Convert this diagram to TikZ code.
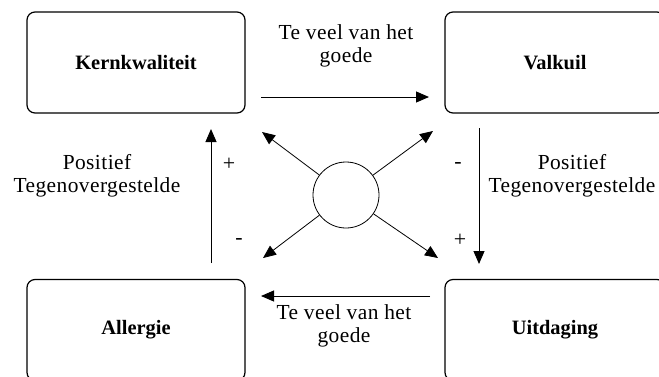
\documentclass[tikz,border=0pt]{standalone}
\usepackage{fontspec}
\setmainfont{Liberation Serif}
\newfontfamily\spaced[LetterSpace=2]{Liberation Serif}
\usetikzlibrary{arrows.meta}
\tikzset{
  box/.style={draw, line width=1.2bp, rounded corners=8bp, minimum width=218bp, minimum height=101bp,
    font=\fontsize{20.5}{23}\selectfont\bfseries, inner sep=0pt},
  lbl/.style={font=\spaced\fontsize{21.5}{23.5}\selectfont, align=center, inner sep=0pt},
  sgn/.style={font=\fontsize{22}{23}\selectfont, inner sep=0pt},
  arr/.style={line width=1bp, -{Triangle[length=13bp,width=11bp]}},
  darr/.style={line width=0.8bp, -{Triangle[length=13bp,width=11bp]}}
}
\begin{document}
\begin{tikzpicture}[x=1bp,y=-1bp]
\useasboundingbox[fill=white] (0,0) rectangle (659,376);
\begin{scope}
\clip (0,0) rectangle (659,376);
\node[box] (kern) at (136,62.5) {Kernkwaliteit};
\node[box, minimum width=220bp] (valk) at (555,62.5) {Valkuil};
\node[box] (allg) at (136,330) {Allergie};
\node[box, minimum width=220bp] (uitd) at (555,330) {Uitdaging};
\end{scope}
\node[draw, circle, line width=0.8bp, minimum size=66bp, inner sep=0pt] (circ) at (346,195) {};
% horizontal arrows
\coordinate (ta) at (261,97);
\coordinate (tb) at (429,97);
\coordinate (ba) at (430,296);
\coordinate (bb) at (261,296);
\draw[arr] (ta) -- (tb);
\draw[arr] (ba) -- (bb);
% vertical arrows
\coordinate (la) at (211,263);
\coordinate (lb) at (211,129);
\coordinate (ra) at (479,128);
\coordinate (rb) at (479,264);
\draw[arr] (la) -- (lb);
\draw[arr] (ra) -- (rb);
% diagonal arrows
\coordinate (nw) at (262,132);
\coordinate (ne) at (433,131);
\coordinate (sw) at (263,258);
\coordinate (se) at (438,258);
\draw[darr] (circ) -- (nw);
\draw[darr] (circ) -- (ne);
\draw[darr] (circ) -- (sw);
\draw[darr] (circ) -- (se);
% labels
\node[lbl] (ttop) at (346,46) {Te veel van het\\goede};
\node[lbl] (tbot) at (344,326) {Te veel van het\\goede};
\node[lbl] (tleft) at (97,176) {Positief\\Tegenovergestelde};
\node[lbl] (tright) at (572,176) {Positief\\Tegenovergestelde};
\node[sgn] (p1) at (229,164) {+};
\node[sgn] (m1) at (239,242) {-};
\node[sgn] (m2) at (458,166) {-};
\node[sgn] (p2) at (460,240) {+};
\end{tikzpicture}
\end{document}
